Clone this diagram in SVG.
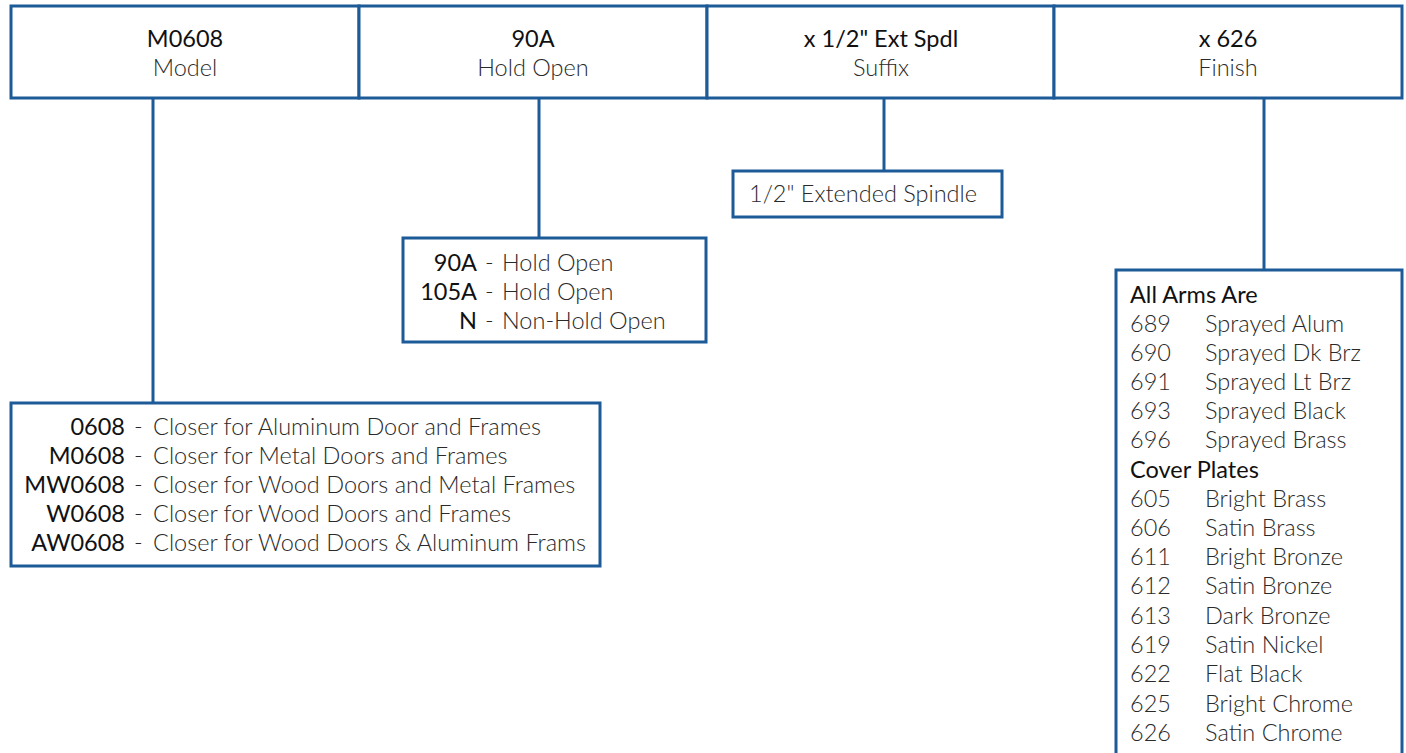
<svg xmlns="http://www.w3.org/2000/svg" width="1406" height="753" viewBox="0 0 1406 753">
<style>
.box{fill:#fff;stroke:#1c5a98;stroke-width:3}
.ln{stroke:#1c5a98;stroke-width:3;fill:none}
text{font-family:Lato,"Noto Sans","Liberation Sans",sans-serif;font-size:23.5px}
.c{font-weight:400;fill:#111}
.d{font-weight:300;fill:#2a2a2a}
.t{text-anchor:middle}
.e{text-anchor:end}
</style>
<rect width="1406" height="753" fill="#fff"/>
<g id="connectors">
<line class="ln" x1="153" y1="98" x2="153" y2="403"/>
<line class="ln" x1="539" y1="98" x2="539" y2="238"/>
<line class="ln" x1="884" y1="98" x2="884" y2="171"/>
<line class="ln" x1="1264" y1="98" x2="1264" y2="270"/>
</g>
<g id="header-model">
<rect class="box" x="11" y="6" width="348" height="92"/>
<text class="c t" x="185" y="47">M0608</text>
<text class="d t" x="185" y="76">Model</text>
</g>
<g id="header-holdopen">
<rect class="box" x="359" y="6" width="348" height="92"/>
<text class="c t" x="533" y="47">90A</text>
<text class="d t" x="533" y="76">Hold Open</text>
</g>
<g id="header-suffix">
<rect class="box" x="707" y="6" width="347" height="92"/>
<text class="c t" x="881" y="47">x 1/2" Ext Spdl</text>
<text class="d t" x="881" y="76">Suffix</text>
</g>
<g id="header-finish">
<rect class="box" x="1054" y="6" width="348" height="92"/>
<text class="c t" x="1228" y="47">x 626</text>
<text class="d t" x="1228" y="76">Finish</text>
</g>
<g id="suffix-options">
<rect class="box" x="733" y="171" width="269" height="46"/>
<text class="d" x="749" y="202">1/2" Extended Spindle</text>
</g>
<g id="holdopen-options">
<rect class="box" x="403" y="238" width="303" height="104"/>
<text class="c e" x="477" y="271">90A</text><text class="d" x="485" y="271">-</text><text class="d" x="502" y="271">Hold Open</text>
<text class="c e" x="477" y="300">105A</text><text class="d" x="485" y="300">-</text><text class="d" x="502" y="300">Hold Open</text>
<text class="c e" x="477" y="329">N</text><text class="d" x="485" y="329">-</text><text class="d" x="502" y="329">Non-Hold Open</text>
</g>
<g id="model-options">
<rect class="box" x="11" y="403" width="589" height="163"/>
<text class="c e" x="125" y="435">0608</text><text class="d" x="134" y="435">-</text><text class="d" x="153" y="435">Closer for Aluminum Door and Frames</text>
<text class="c e" x="125" y="464">M0608</text><text class="d" x="134" y="464">-</text><text class="d" x="153" y="464">Closer for Metal Doors and Frames</text>
<text class="c e" x="125" y="493">MW0608</text><text class="d" x="134" y="493">-</text><text class="d" x="153" y="493">Closer for Wood Doors and Metal Frames</text>
<text class="c e" x="125" y="522">W0608</text><text class="d" x="134" y="522">-</text><text class="d" x="153" y="522">Closer for Wood Doors and Frames</text>
<text class="c e" x="125" y="551">AW0608</text><text class="d" x="134" y="551">-</text><text class="d" x="153" y="551">Closer for Wood Doors &amp; Aluminum Frams</text>
</g>
<g id="finish-options">
<rect class="box" x="1116" y="270" width="286" height="500"/>
<text class="c" x="1130" y="303">All Arms Are</text>
<text class="d" x="1130" y="332">689</text><text class="d" x="1205" y="332">Sprayed Alum</text>
<text class="d" x="1130" y="361">690</text><text class="d" x="1205" y="361">Sprayed Dk Brz</text>
<text class="d" x="1130" y="390">691</text><text class="d" x="1205" y="390">Sprayed Lt Brz</text>
<text class="d" x="1130" y="419">693</text><text class="d" x="1205" y="419">Sprayed Black</text>
<text class="d" x="1130" y="448">696</text><text class="d" x="1205" y="448">Sprayed Brass</text>
<text class="c" x="1130" y="478">Cover Plates</text>
<text class="d" x="1130" y="507">605</text><text class="d" x="1205" y="507">Bright Brass</text>
<text class="d" x="1130" y="536">606</text><text class="d" x="1205" y="536">Satin Brass</text>
<text class="d" x="1130" y="565">611</text><text class="d" x="1205" y="565">Bright Bronze</text>
<text class="d" x="1130" y="594">612</text><text class="d" x="1205" y="594">Satin Bronze</text>
<text class="d" x="1130" y="624">613</text><text class="d" x="1205" y="624">Dark Bronze</text>
<text class="d" x="1130" y="653">619</text><text class="d" x="1205" y="653">Satin Nickel</text>
<text class="d" x="1130" y="682">622</text><text class="d" x="1205" y="682">Flat Black</text>
<text class="d" x="1130" y="712">625</text><text class="d" x="1205" y="712">Bright Chrome</text>
<text class="d" x="1130" y="741">626</text><text class="d" x="1205" y="741">Satin Chrome</text>
</g>
</svg>
